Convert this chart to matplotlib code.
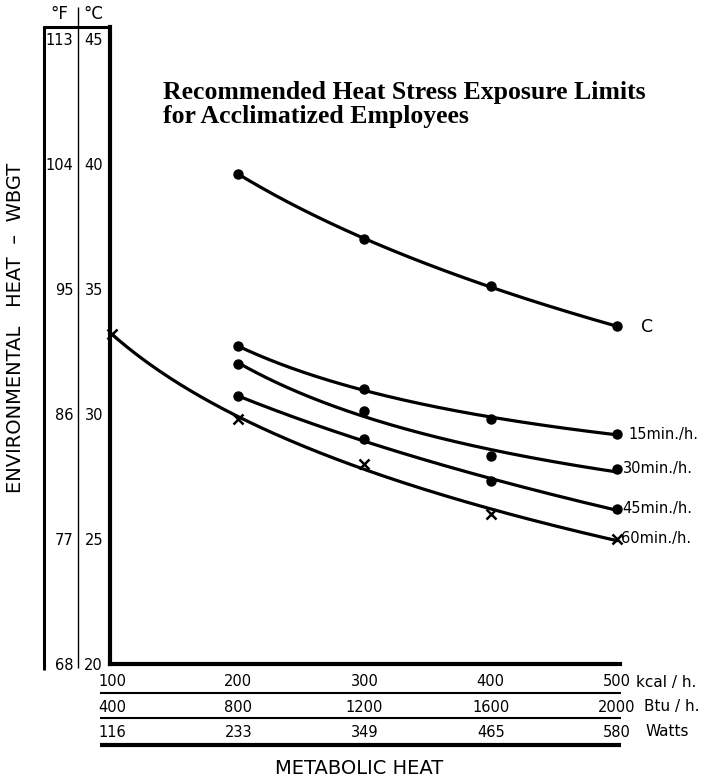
import numpy as np
import matplotlib
matplotlib.use('Agg')
import matplotlib.pyplot as plt
from matplotlib.lines import Line2D

# Metabolic heat (kcal/h) and the equivalent scales printed below the axis
kcal = [100, 200, 300, 400, 500]
btu_labels = ['400', '800', '1200', '1600', '2000']
watt_labels = ['116', '233', '349', '465', '580']

# WBGT limits in deg C read at each metabolic rate
kcal_pts = [200, 300, 400, 500]
ceiling = [39.6, 37.0, 35.1, 33.5]
rest15 = [32.7, 31.0, 29.8, 29.2]
rest30 = [32.0, 30.1, 28.3, 27.8]
rest45 = [30.7, 29.0, 27.3, 26.2]
cont60 = [33.2, 29.8, 28.0, 26.0, 25.0]

c_ticks = [20, 25, 30, 35, 40, 45]

W, H = 712, 780
fig = plt.figure(figsize=(W / 100, H / 100), dpi=100)


def fx(x):
    return x / W


def fy(y):
    return 1 - y / H


def hline(x0, x1, y, lw):
    fig.add_artist(Line2D([fx(x0), fx(x1)], [fy(y), fy(y)], lw=lw,
                          color='black', transform=fig.transFigure,
                          solid_capstyle='butt'))


def vline(x, y0, y1, lw):
    fig.add_artist(Line2D([fx(x), fx(x)], [fy(y0), fy(y1)], lw=lw,
                          color='black', transform=fig.transFigure,
                          solid_capstyle='butt'))


ax = fig.add_axes([fx(110), fy(664), (620 - 110) / W, (664 - 27) / H])
ax.set_xlim(98.4, 502.4)
ax.set_ylim(20, 45.48)
for s in ['top', 'right']:
    ax.spines[s].set_visible(False)
for s in ['left', 'bottom']:
    ax.spines[s].set_linewidth(3)

txt = dict(fontfamily='DejaVu Sans', fontsize=10.5)

ax.set_yticks(c_ticks)
ax.set_yticklabels([str(c) for c in c_ticks], **txt)
ax.set_xticks(kcal)
ax.set_xticklabels([str(k) for k in kcal], **txt)
ax.tick_params(axis='y', length=0, pad=5)
ax.tick_params(axis='x', length=0, pad=7)

# Fahrenheit column
fax = ax.secondary_yaxis(-32 / 510, functions=(lambda c: c * 9 / 5 + 32,
                                               lambda f: (f - 32) * 5 / 9))
fax.set_yticks([c * 9 / 5 + 32 for c in c_ticks])
fax.set_yticklabels([f'{c * 9 / 5 + 32:.0f}' for c in c_ticks], **txt)
fax.tick_params(length=0, pad=3.5)
fax.spines['left'].set_visible(False)

# Btu/h and watt rows under the kcal row
bax = ax.secondary_xaxis(-29 / 637, functions=(lambda x: x, lambda x: x))
bax.set_xticks(kcal)
bax.set_xticklabels(btu_labels, **txt)
bax.tick_params(length=0, pad=5)
bax.spines['bottom'].set_visible(False)

wax = ax.secondary_xaxis(-54 / 637, functions=(lambda x: x, lambda x: x))
wax.set_xticks(kcal)
wax.set_xticklabels(watt_labels, **txt)
wax.tick_params(length=0, pad=5)
wax.spines['bottom'].set_visible(False)

# Smoothed curves (quadratic in log of metabolic rate) with plotted points
series = [
    (kcal_pts, ceiling, 'o', 'C', 17, 12.5),
    (kcal_pts, rest15, 'o', '15min./h.', 8, 10.5),
    (kcal_pts, rest30, 'o', '30min./h.', 4, 10.5),
    (kcal_pts, rest45, 'o', '45min./h.', 4, 10.5),
    (kcal, cont60, 'x', '60min./h.', 3, 10.5),
]
for xs, ys, mk, lab, off, fs in series:
    coef = np.polyfit(np.log(xs), ys, 2)
    xx = np.linspace(xs[0], xs[-1], 200)
    ax.plot(xx, np.polyval(coef, np.log(xx)), color='black', lw=2.3,
            solid_capstyle='round', clip_on=False)
    if mk == 'o':
        ax.plot(xs, ys, 'o', color='black', ms=6.5, clip_on=False)
    else:
        ax.plot(xs, ys, 'x', color='black', ms=6.5, mew=1.8, clip_on=False)
    ax.annotate(lab, xy=(xs[-1], ys[-1]), xytext=(off, 0),
                textcoords='offset points', va='center', ha='left',
                fontfamily='DejaVu Sans', fontsize=fs)

# Frame of the temperature columns
vline(44, 26, 670, 2.2)
hline(42.9, 111, 27, 2.2)
vline(78, 7, 668, 1.0)

# Rules between the metabolic heat rows
hline(100, 621, 693, 1.5)
hline(100, 621, 718, 1.5)
hline(100, 621, 745, 3)

fig.text(fx(59), fy(14), '°F', ha='center', va='center',
         fontfamily='DejaVu Sans', fontsize=12)
fig.text(fx(93), fy(14), '°C', ha='center', va='center',
         fontfamily='DejaVu Sans', fontsize=12)

unit = dict(fontfamily='DejaVu Sans', fontsize=11, ha='left', va='center')
fig.text(fx(636), fy(682), 'kcal / h.', **unit)
fig.text(fx(644), fy(706), 'Btu / h.', **unit)
fig.text(fx(645), fy(731), 'Watts', **unit)

fig.text(fx(359), fy(768), 'METABOLIC HEAT', ha='center', va='center',
         fontfamily='DejaVu Sans', fontsize=14)
fig.text(fx(16), fy(328), 'ENVIRONMENTAL   HEAT  –  WBGT', rotation=90,
         ha='center', va='center', fontfamily='DejaVu Sans', fontsize=14)

fig.text(fx(163), fy(81), 'Recommended Heat Stress Exposure Limits\n'
         'for Acclimatized Employees', ha='left', va='top',
         fontfamily='Liberation Serif', fontweight='bold', fontsize=18.5,
         linespacing=1.05)

fig.savefig('out.png', dpi=100)
